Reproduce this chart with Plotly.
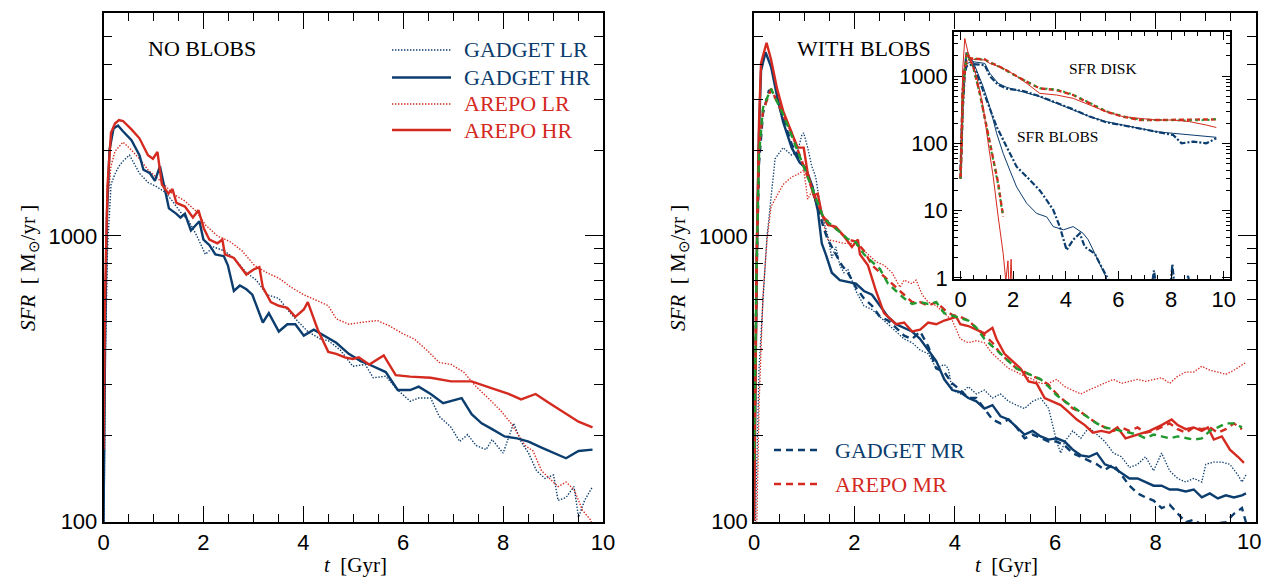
import plotly.graph_objects as go

W, H = 1264, 578
BLUE = "#0b3d6e"
RED = "#d42a1f"
GREEN = "#1f9a2e"
SANS = "Liberation Sans, Arial, sans-serif"
SERIF = "Liberation Serif, Times New Roman, serif"

# ---------------- LEFT PANEL: NO BLOBS ----------------
t_glr_nb = [0, 0.04, 0.08, 0.15, 0.23, 0.31, 0.39, 0.52, 0.72, 0.89, 1.05, 1.22, 1.38, 1.54, 1.71, 1.87,
            2.04, 2.20, 2.41, 2.61, 2.86, 3.06, 3.27, 3.51, 3.68, 3.84, 4.09, 4.34, 4.50, 4.74, 4.99,
            5.24, 5.40, 5.65, 5.89, 6.14, 6.31, 6.55, 6.72, 6.96, 7.13, 7.29, 7.46, 7.66, 7.78, 8.00,
            8.21, 8.36, 8.51, 8.67, 8.84, 9.01, 9.10, 9.26, 9.42, 9.51, 9.63, 9.79]
sfr_glr_nb = [60, 400, 900, 1515, 1650, 1757, 1830, 1920, 1659, 1540, 1493, 1429, 1326, 1213, 1126, 1000,
              862, 915, 888, 837, 743, 700, 622, 604, 552, 512, 462, 435, 429, 398, 349,
              354, 318, 322, 288, 263, 270, 270, 233, 213, 190, 201, 184, 178, 193, 173,
              220, 190, 173, 150, 141, 145, 118, 121, 132, 103, 118, 132]

t_ghr_nb = [0, 0.03, 0.07, 0.12, 0.20, 0.29, 0.39, 0.56, 0.72, 0.80, 0.93, 1.03, 1.13, 1.22, 1.31, 1.46,
            1.54, 1.63, 1.75, 1.92, 2.00, 2.12, 2.24, 2.41, 2.49, 2.61, 2.73, 2.86, 2.98, 3.19, 3.31,
            3.51, 3.68, 3.84, 4.01, 4.21, 4.42, 4.66, 4.91, 5.15, 5.32, 5.65, 5.89, 6.14, 6.31, 6.55,
            6.80, 6.96, 7.17, 7.37, 7.57, 7.78, 8.03, 8.28, 8.51, 8.77, 9.01, 9.26, 9.51, 9.79]
sfr_ghr_nb = [95, 400, 1200, 2000, 2380, 2440, 2330, 2165, 1920, 1707, 1659, 1561, 1757, 1471, 1249, 1195,
              1160, 1195, 1045, 1126, 971, 929, 862, 849, 789, 641, 670, 650, 622, 497, 536,
              462, 490, 490, 447, 469, 447, 422, 386, 364, 354, 333, 288, 288, 296, 279,
              259, 263, 270, 237, 220, 210, 198, 195, 190, 181, 173, 166, 176, 178]

t_alr_nb = [0, 0.04, 0.08, 0.15, 0.23, 0.39, 0.56, 0.72, 0.89, 1.05, 1.22, 1.38, 1.63, 1.87, 2.04, 2.28,
            2.53, 2.77, 3.02, 3.27, 3.51, 3.76, 4.01, 4.34, 4.50, 4.66, 4.91, 5.15, 5.48, 5.73, 5.98,
            6.22, 6.47, 6.72, 6.96, 7.21, 7.46, 7.70, 7.95, 8.16, 8.28, 8.44, 8.60, 8.77, 8.93, 9.10,
            9.26, 9.42, 9.59, 9.75, 9.80]
sfr_alr_nb = [150, 700, 1300, 1757, 1980, 2134, 2000, 1865, 1707, 1608, 1515, 1407, 1326, 1213, 1093, 1000,
              956, 888, 789, 743, 711, 660, 622, 586, 569, 512, 490, 497, 505, 483, 455,
              435, 398, 360, 354, 333, 296, 270, 244, 220, 204, 184, 176, 150, 141, 132,
              137, 129, 109, 101, 95]

t_ahr_nb = [0, 0.03, 0.08, 0.15, 0.23, 0.31, 0.39, 0.56, 0.72, 0.89, 0.99, 1.08, 1.17, 1.30, 1.38, 1.46,
            1.63, 1.79, 1.90, 2.01, 2.12, 2.28, 2.38, 2.43, 2.61, 2.86, 3.02, 3.12, 3.19, 3.35, 3.51,
            3.68, 3.84, 4.01, 4.09, 4.17, 4.29, 4.50, 4.66, 4.83, 4.99, 5.11, 5.32, 5.61, 5.69, 5.85,
            6.14, 6.55, 6.96, 7.37, 7.78, 8.11, 8.36, 8.65, 8.93, 9.26, 9.51, 9.79]
sfr_ahr_nb = [178, 600, 1500, 2300, 2480, 2550, 2530, 2365, 2200, 1920, 1865, 1970, 1515, 1407, 1461, 1306,
              1268, 1160, 1231, 1061, 970, 942, 970, 862, 837, 732, 765, 777, 660, 586, 569,
              560, 520, 552, 586, 536, 469, 392, 386, 375, 370, 375, 354, 381, 360, 325,
              321, 318, 309, 309, 292, 279, 267, 279, 259, 237, 223, 213]

# ---------------- RIGHT PANEL: WITH BLOBS ----------------
t_glr_wb = [0, 0.06, 0.10, 0.18, 0.26, 0.42, 0.58, 0.75, 0.87, 0.95, 0.99, 1.07, 1.15, 1.23, 1.31, 1.39,
            1.47, 1.55, 1.63, 1.71, 1.79, 1.87, 2.03, 2.19, 2.35, 2.51, 2.67, 2.83, 2.99, 3.15, 3.31,
            3.47, 3.63, 3.79, 3.87, 3.95, 4.11, 4.27, 4.43, 4.59, 4.75, 4.91, 5.07, 5.23, 5.39, 5.55,
            5.71, 5.87, 6.03, 6.11, 6.19, 6.35, 6.51, 6.67, 6.83, 6.99, 7.16, 7.32, 7.48, 7.64, 7.80,
            7.96, 8.12, 8.28, 8.44, 8.60, 8.76, 8.92, 9.00, 9.16, 9.32, 9.48, 9.64, 9.72, 9.80]
sfr_glr_wb = [60, 150, 344, 600, 1000, 1865, 2040, 1920, 1980, 2250, 2300, 2040, 1757, 1608, 1306, 1126,
              1000, 837, 915, 789, 743, 765, 641, 569, 552, 520, 490, 462, 435, 422, 398,
              386, 343, 354, 343, 288, 279, 296, 279, 288, 270, 279, 263, 255, 248, 263,
              270, 248, 190, 173, 190, 207, 195, 213, 201, 190, 173, 168, 154, 158, 168,
              150, 173, 150, 141, 137, 141, 137, 158, 161, 161, 158, 145, 137, 145]

t_ghr_wb = [0, 0.03, 0.06, 0.10, 0.14, 0.23, 0.34, 0.46, 0.58, 0.75, 0.91, 1.03, 1.15, 1.27, 1.35, 1.43,
            1.55, 1.71, 1.87, 2.03, 2.19, 2.35, 2.51, 2.67, 2.83, 2.99, 3.15, 3.31, 3.47, 3.63, 3.79,
            3.95, 4.11, 4.27, 4.43, 4.59, 4.75, 4.91, 5.07, 5.23, 5.39, 5.55, 5.71, 5.87, 6.03, 6.19,
            6.35, 6.51, 6.67, 6.83, 6.99, 7.16, 7.32, 7.48, 7.64, 7.80, 7.96, 8.12, 8.28, 8.44, 8.60,
            8.76, 8.92, 9.08, 9.24, 9.40, 9.56, 9.72, 9.80]
sfr_ghr_wb = [100, 380, 950, 2300, 3800, 4410, 3920, 3090, 2510, 2040, 1811, 1731, 1515, 1231, 942, 862,
              743, 700, 690, 680, 641, 622, 569, 520, 490, 476, 462, 435, 398, 364, 314,
              288, 283, 270, 263, 248, 255, 233, 227, 213, 201, 207, 198, 193, 195, 190,
              178, 170, 168, 173, 158, 154, 147, 141, 141, 137, 133, 133, 129, 129, 127,
              129, 121, 125, 120, 123, 121, 123, 125]

t_gmr_wb = [0, 0.05, 0.10, 0.18, 0.30, 0.46, 0.75, 0.99, 1.15, 1.27, 1.39, 1.47, 1.63, 1.75, 1.87, 2.03,
            2.19, 2.35, 2.51, 2.67, 2.83, 2.99, 3.15, 3.31, 3.47, 3.63, 3.79, 3.95, 4.11, 4.27, 4.43,
            4.59, 4.75, 4.91, 5.07, 5.23, 5.39, 5.55, 5.71, 5.87, 6.03, 6.19, 6.35, 6.51, 6.67, 6.83,
            6.99, 7.16, 7.32, 7.48, 7.64, 7.80, 7.96, 8.12, 8.28, 8.44, 8.60, 8.76, 8.92, 9.40, 9.56,
            9.72, 9.80]
sfr_gmr_wb = [130, 700, 1800, 2700, 3250, 3000, 2100, 1757, 1515, 1268, 1061, 971, 862, 789, 743, 660,
              604, 569, 520, 505, 476, 447, 435, 462, 410, 343, 333, 304, 288, 270, 270,
              248, 227, 220, 227, 213, 195, 201, 195, 190, 190, 184, 173, 168, 163, 158,
              151, 158, 145, 133, 125, 121, 118, 111, 114, 106, 99, 101, 97, 99, 106,
              111, 99]

t_amr_wb = [0, 0.05, 0.10, 0.18, 0.34, 0.58, 0.75, 0.91, 1.07, 1.23, 1.39, 1.55, 1.71, 1.87, 2.03, 2.19,
            2.35, 2.51, 2.67, 2.83, 2.99, 3.15, 3.31, 3.47, 3.63, 3.79, 3.95, 4.11, 4.27, 4.43, 4.59,
            4.75, 4.91, 5.07, 5.23, 5.39, 5.55, 5.71, 5.87, 6.03, 6.19, 6.35, 6.51, 6.67, 6.83, 6.99,
            7.16, 7.32, 7.48, 7.64, 7.80, 7.96, 8.12, 8.28, 8.44, 8.60, 8.76, 8.92, 9.08, 9.24, 9.40,
            9.56, 9.72]
sfr_amr_wb = [130, 800, 2040, 2745, 3280, 2665, 2300, 1920, 1608, 1346, 1160, 1093, 1030, 971, 956, 888,
              789, 743, 700, 660, 622, 586, 586, 569, 586, 552, 528, 520, 505, 476, 447,
              422, 386, 364, 343, 333, 322, 314, 300, 279, 263, 248, 241, 230, 220, 213,
              207, 213, 207, 213, 204, 207, 213, 220, 210, 204, 213, 210, 213, 204, 210,
              220, 210]

t_green_wb = [0, 0.05, 0.10, 0.18, 0.34, 0.58, 0.75, 0.91, 1.07, 1.23, 1.39, 1.55, 1.71, 1.87, 2.03,
              2.19, 2.51, 2.67, 2.83, 2.99, 3.15, 3.31, 3.47, 3.63, 3.79, 4.03, 4.27, 4.43, 4.59, 4.75,
              4.91, 5.07, 5.23, 5.39, 5.71, 5.87, 6.03, 6.19, 6.35, 6.51, 6.67, 6.83, 6.99, 7.32, 7.64,
              7.80, 7.96, 8.12, 8.28, 8.44, 8.60, 8.76, 8.92, 9.08, 9.24, 9.40, 9.56, 9.72]
sfr_green_wb = [163, 750, 1920, 2820, 3280, 2665, 2250, 1900, 1600, 1340, 1150, 1090, 1030, 975, 950,
                862, 765, 680, 641, 604, 577, 586, 577, 586, 536, 520, 505, 476, 435, 410,
                386, 364, 343, 333, 314, 296, 276, 263, 251, 241, 230, 220, 213, 207, 201,
                195, 201, 198, 195, 198, 195, 193, 195, 207, 213, 220, 220, 213]

t_alr_wb = [0, 0.06, 0.10, 0.18, 0.26, 0.34, 0.46, 0.58, 0.75, 0.91, 0.99, 1.07, 1.15, 1.23, 1.31, 1.39,
            1.47, 1.63, 1.79, 1.95, 2.11, 2.27, 2.43, 2.59, 2.75, 2.91, 2.99, 3.15, 3.23, 3.35, 3.47,
            3.63, 3.79, 3.95, 4.11, 4.27, 4.43, 4.59, 4.75, 4.91, 5.07, 5.23, 5.39, 5.55, 5.71, 5.87,
            6.03, 6.19, 6.35, 6.51, 6.67, 6.83, 6.99, 7.16, 7.32, 7.48, 7.64, 7.80, 7.96, 8.12, 8.28,
            8.44, 8.60, 8.76, 8.92, 9.08, 9.24, 9.40, 9.56, 9.72, 9.80]
sfr_alr_wb = [50, 106, 255, 622, 971, 1268, 1387, 1515, 1608, 1659, 1707, 1346, 1429, 1306, 1268, 1093,
              971, 956, 942, 942, 915, 862, 812, 789, 743, 660, 700, 680, 700, 622, 586,
              569, 536, 505, 435, 422, 429, 422, 386, 364, 343, 333, 322, 314, 304, 304,
              314, 296, 288, 279, 288, 296, 304, 314, 304, 309, 314, 309, 314, 318, 304,
              322, 333, 333, 349, 338, 333, 327, 338, 354, 360]

t_ahr_wb = [0, 0.03, 0.06, 0.10, 0.14, 0.25, 0.34, 0.46, 0.58, 0.75, 0.87, 0.99, 1.07, 1.19, 1.27, 1.35,
            1.47, 1.63, 1.79, 1.95, 2.07, 2.11, 2.27, 2.43, 2.59, 2.83, 2.99, 3.15, 3.31, 3.47, 3.63,
            3.79, 4.03, 4.11, 4.27, 4.43, 4.59, 4.75, 4.83, 4.99, 5.15, 5.31, 5.47, 5.63, 5.79, 5.95,
            6.11, 6.27, 6.43, 6.59, 6.75, 6.92, 7.08, 7.24, 7.40, 7.64, 7.88, 8.12, 8.32, 8.44, 8.60,
            8.76, 8.92, 9.04, 9.16, 9.32, 9.48, 9.64, 9.76]
sfr_ahr_wb = [100, 400, 1000, 2500, 4040, 4760, 4160, 3280, 2745, 2300, 2040, 2040, 1659, 1387, 1407, 1195,
              1093, 1077, 1000, 915, 971, 862, 789, 641, 536, 490, 497, 462, 469, 497, 490,
              505, 520, 490, 483, 469, 455, 476, 435, 386, 364, 343, 309, 304, 270, 263,
              255, 241, 227, 217, 204, 207, 204, 213, 195, 201, 207, 217, 227, 217, 210,
              213, 207, 213, 193, 198, 178, 168, 160]

# ---------------- INSET: SFR DISK / SFR BLOBS ----------------
t_ahr_disk = [0, 0.08, 0.16, 0.35, 0.48, 0.92, 1.11, 1.49, 1.75, 2.06, 2.51, 3.01, 3.65, 4.28, 4.91, 5.54,
              6.18, 6.81, 7.44, 8.08, 8.71, 9.34, 9.72]
sfr_ahr_disk = [30, 400, 1500, 1830, 1770, 1730, 1540, 1375, 1230, 1035, 778, 553, 522, 466, 371, 295,
                249, 235, 222, 222, 210, 187, 172]

t_amr_disk = [0, 0.08, 0.16, 0.35, 0.92, 1.11, 1.49, 1.75, 2.06, 2.51, 3.01, 3.65, 4.28, 4.91, 5.54, 6.18,
              6.81, 7.44, 8.08, 8.71, 9.34, 9.72]
sfr_amr_disk = [30, 350, 1400, 1830, 1770, 1600, 1375, 1200, 1035, 824, 656, 620, 522, 393, 295, 249,
                222, 222, 222, 222, 222, 227]
sfr_green_disk = [30, 350, 1400, 1800, 1750, 1580, 1360, 1190, 1020, 830, 660, 630, 530, 400, 300, 252,
                  225, 222, 220, 218, 222, 230]

t_ghr_disk = [0, 0.08, 0.16, 0.23, 0.48, 0.92, 1.11, 1.43, 1.75, 2.38, 3.01, 3.65, 4.28, 4.91, 5.54, 6.18,
              6.81, 7.44, 8.08, 8.71, 9.34, 9.72]
sfr_ghr_disk = [30, 300, 1200, 1540, 1630, 1540, 1100, 780, 680, 585, 493, 393, 313, 249, 210, 187,
                167, 149, 141, 133, 126, 123]

t_gmr_disk = [0, 0.08, 0.16, 0.23, 0.48, 0.92, 1.11, 1.43, 1.75, 2.38, 3.01, 3.65, 4.28, 4.91, 5.54, 6.18,
              6.81, 7.44, 8.08, 8.40, 8.84, 9.34, 9.72]
sfr_gmr_disk = [30, 300, 1100, 1400, 1500, 1450, 1000, 740, 650, 600, 500, 400, 320, 250, 205, 185,
                165, 150, 133, 100, 106, 100, 119]

t_ahr_blob = [0, 0.08, 0.16, 0.29, 0.61, 0.86, 1.05, 1.24, 1.43, 1.62, 1.72, 1.80, 1.86, 1.92, 1.98]
sfr_ahr_blob = [32, 1230, 3620, 2170, 977, 350, 100, 32, 8.1, 2.3, 0.9, 1.8, 0.5, 1.9, 0.5]

t_amr_blob = [0, 0.08, 0.23, 0.48, 0.73, 0.99, 1.24, 1.43, 1.56, 1.62]
sfr_amr_blob = [30, 600, 2300, 1375, 553, 177, 57, 25.5, 11.5, 8.2]
sfr_green_blob = [30, 550, 2200, 1330, 540, 170, 55, 24, 11, 8.5]

t_ghr_blob = [0, 0.08, 0.23, 0.48, 0.86, 1.11, 1.37, 1.62, 1.87, 2.13, 2.51, 2.89, 3.27, 3.52, 3.91, 4.28,
              4.66, 4.85, 5.04, 5.29, 5.54, 5.67]
sfr_ghr_blob = [40, 500, 2170, 1630, 694, 350, 141, 71, 40, 22.5, 12.9, 9.1, 8.1, 5.8, 5.2, 5.8,
                4.6, 3.7, 2.6, 1.64, 1.0, 0.75]

t_gmr_blob = [0, 0.08, 0.23, 0.61, 0.99, 1.37, 1.75, 2.13, 2.51, 2.89, 3.01, 3.27, 3.52, 3.77, 4.03, 4.28,
              4.53, 4.72, 4.91, 5.10, 5.29, 5.42, 5.61, 6.00, 7.20, 7.35, 7.50, 7.95, 8.05, 8.15, 8.50,
              8.65, 8.75]
sfr_gmr_blob = [40, 600, 2300, 1095, 440, 177, 89, 45, 32, 22.5, 20, 14.4, 10.3, 5.8, 2.6, 3.7,
                4.6, 2.9, 2.6, 2.3, 1.64, 1.3, 0.93, 0.5, 0.5, 1.3, 0.5, 0.6, 1.6, 0.6, 0.5,
                1.1, 0.5]

# axis ticks
x_major = [0, 2, 4, 6, 8, 10]
x_major_text = ["0", "2", "4", "6", "8", "10"]
y_major = [100, 1000]
y_major_text = ["100", "1000"]
y_minor = [200, 300, 400, 500, 600, 700, 800, 900, 2000, 3000, 4000, 5000]
inset_y_major = [1, 10, 100, 1000]
inset_y_text = ["1", "10", "100", "1000"]
inset_y_minor = [m * d for d in (1, 10, 100) for m in range(2, 10)] + [2000, 3000, 4000]


def px_x(p):
    return p / W


def px_y(p):
    return 1 - p / H


DOT = "1.4px,1.6px"
DASH = "7px,5px"

fig = go.Figure()


def add(x, y, color, width, dash, xa, ya):
    fig.add_trace(go.Scatter(x=x, y=y, mode="lines", xaxis=xa, yaxis=ya, showlegend=False,
                             hoverinfo="skip",
                             line=dict(color=color, width=width, dash=dash)))


# left panel
add(t_glr_nb, sfr_glr_nb, BLUE, 1.4, DOT, "x", "y")
add(t_alr_nb, sfr_alr_nb, RED, 1.4, DOT, "x", "y")
add(t_ghr_nb, sfr_ghr_nb, BLUE, 2.4, "solid", "x", "y")
add(t_ahr_nb, sfr_ahr_nb, RED, 2.4, "solid", "x", "y")

# right panel
add(t_glr_wb, sfr_glr_wb, BLUE, 1.3, DOT, "x2", "y2")
add(t_alr_wb, sfr_alr_wb, RED, 1.3, DOT, "x2", "y2")
add(t_gmr_wb, sfr_gmr_wb, BLUE, 2.4, DASH, "x2", "y2")
add(t_ghr_wb, sfr_ghr_wb, BLUE, 2.4, "solid", "x2", "y2")
add(t_ahr_wb, sfr_ahr_wb, RED, 2.4, "solid", "x2", "y2")
add(t_amr_wb, sfr_amr_wb, RED, 2.4, DASH, "x2", "y2")
add(t_green_wb, sfr_green_wb, GREEN, 2.4, DASH, "x2", "y2")

# inset
add(t_ghr_disk, sfr_ghr_disk, BLUE, 1.0, "solid", "x3", "y3")
add(t_gmr_disk, sfr_gmr_disk, BLUE, 2.2, "6px,2px,2px,2px", "x3", "y3")
add(t_ghr_blob, sfr_ghr_blob, BLUE, 1.0, "solid", "x3", "y3")
add(t_gmr_blob, sfr_gmr_blob, BLUE, 2.2, "6px,2px,2px,2px", "x3", "y3")
add(t_amr_disk, sfr_amr_disk, RED, 2.4, "5px,3px", "x3", "y3")
add(t_amr_disk, sfr_green_disk, GREEN, 2.0, "2px,4px", "x3", "y3")
add(t_ahr_disk, sfr_ahr_disk, RED, 1.0, "solid", "x3", "y3")
add(t_amr_blob, sfr_amr_blob, RED, 2.4, "5px,3px", "x3", "y3")
add(t_amr_blob, sfr_green_blob, GREEN, 2.0, "2px,4px", "x3", "y3")
add(t_ahr_blob, sfr_ahr_blob, RED, 1.0, "solid", "x3", "y3")

tickfont = dict(family=SANS, size=22, color="black")


def xaxis_cfg(domain, rng, anchor, major_len, minor_len, labels):
    return dict(domain=domain, range=rng, anchor=anchor, showgrid=False, zeroline=False,
                automargin=False, ticklabeloverflow="allow",
                showline=True, linecolor="black", linewidth=1.5, mirror="ticks",
                ticks="inside", ticklen=major_len, tickwidth=1.3, tickcolor="black",
                tickmode="array", tickvals=x_major, ticktext=labels,
                tickfont=tickfont,
                minor=dict(dtick=0.5, tick0=0, ticks="inside", ticklen=minor_len,
                           tickwidth=1.1, tickcolor="black", showgrid=False))


def yaxis_cfg(domain, rng, anchor, vals, text, minors, major_len, minor_len):
    return dict(domain=domain, range=rng, anchor=anchor, type="log", showgrid=False,
                automargin=False, ticklabeloverflow="allow",
                zeroline=False, showline=True, linecolor="black", linewidth=1.5, mirror="ticks",
                ticks="inside", ticklen=major_len, tickwidth=1.3, tickcolor="black",
                tickmode="array", tickvals=vals, ticktext=text, tickfont=tickfont,
                minor=dict(tickmode="array", tickvals=minors, ticks="inside", ticklen=minor_len,
                           tickwidth=1.1, tickcolor="black", showgrid=False))


main_y_range = [1.9965, 3.782]
main_y_dom = [px_y(522), px_y(13)]

# the right panel's last label sits at the page edge; it is drawn as a text nudged inward
right_x_text = x_major_text[:-1] + [""]

fig.update_layout(
    width=W, height=H, autosize=False, margin=dict(l=0, r=0, t=0, b=0, pad=0, autoexpand=False),
    paper_bgcolor="white", plot_bgcolor="white", showlegend=False,
    xaxis=xaxis_cfg([px_x(103.5), px_x(603)], [0, 10], "y", 16, 8, x_major_text),
    yaxis=yaxis_cfg(main_y_dom, main_y_range, "x", y_major, y_major_text, y_minor, 18, 9),
    xaxis2=xaxis_cfg([px_x(754), px_x(1256)], [0, 10], "y2", 16, 8, right_x_text),
    yaxis2=yaxis_cfg(main_y_dom, main_y_range, "x2", y_major, y_major_text, y_minor, 18, 9),
    xaxis3=xaxis_cfg([px_x(954), px_x(1230)], [-0.25, 10.24], "y3", 8, 4, x_major_text),
    yaxis3=yaxis_cfg([px_y(279), px_y(32)], [-0.015, 3.654], "x3", inset_y_major, inset_y_text,
                     inset_y_minor, 8, 4),
)

annotations = []
shapes = []


def text(xp, yp, s, size=22, color="black", xanchor="left", angle=0, family=SERIF):
    annotations.append(dict(x=px_x(xp), y=px_y(yp), xref="paper", yref="paper", text=s,
                            showarrow=False, xanchor=xanchor, yanchor="middle", textangle=angle,
                            font=dict(family=family, size=size, color=color)))


# right panel "10" tick label
text(1263, 541, x_major_text[-1], size=22, xanchor="right", family=SANS)

# panel titles
text(146, 49, "NO BLOBS")
text(795, 49, "WITH BLOBS")
text(1103, 68, "SFR DISK", size=15.5, xanchor="center")
text(1057, 137, "SFR BLOBS", size=15.5, xanchor="center")

# axis titles
text(355, 565, "<i>t</i>  [Gyr]", size=21, xanchor="center")
text(1006, 565, "<i>t</i>  [Gyr]", size=21, xanchor="center")
text(29, 268, "<i>SFR</i>  [ M<sub>⊙</sub>/yr ]", size=21, xanchor="center", angle=-90)
text(679, 268, "<i>SFR</i>  [ M<sub>⊙</sub>/yr ]", size=21, xanchor="center", angle=-90)

# legends (keys drawn as paper-space line samples)
legend_left = [("GADGET LR", BLUE, 1.4, DOT, 50),
               ("GADGET HR", BLUE, 2.4, "solid", 77.5),
               ("AREPO LR", RED, 1.4, DOT, 104),
               ("AREPO HR", RED, 2.4, "solid", 130)]
for name, col, w, d, yy in legend_left:
    shapes.append(dict(type="line", xref="paper", yref="paper", x0=px_x(392), x1=px_x(451),
                       y0=px_y(yy), y1=px_y(yy), line=dict(color=col, width=w, dash=d)))
    text(462, yy, name, color=col)

legend_right = [("GADGET MR", BLUE, 2.4, DASH, 450),
                ("AREPO MR", RED, 2.4, DASH, 484)]
for name, col, w, d, yy in legend_right:
    shapes.append(dict(type="line", xref="paper", yref="paper", x0=px_x(774), x1=px_x(821),
                       y0=px_y(yy), y1=px_y(yy), line=dict(color=col, width=w, dash=d)))
    text(833, yy, name, color=col)

fig.update_layout(annotations=annotations, shapes=shapes)

fig.write_html(
    "out.html",
    config={"displayModeBar": False},
    post_script="document.body.style.margin='0px';document.body.style.padding='0px';"
                "document.body.style.overflow='hidden';",
)
